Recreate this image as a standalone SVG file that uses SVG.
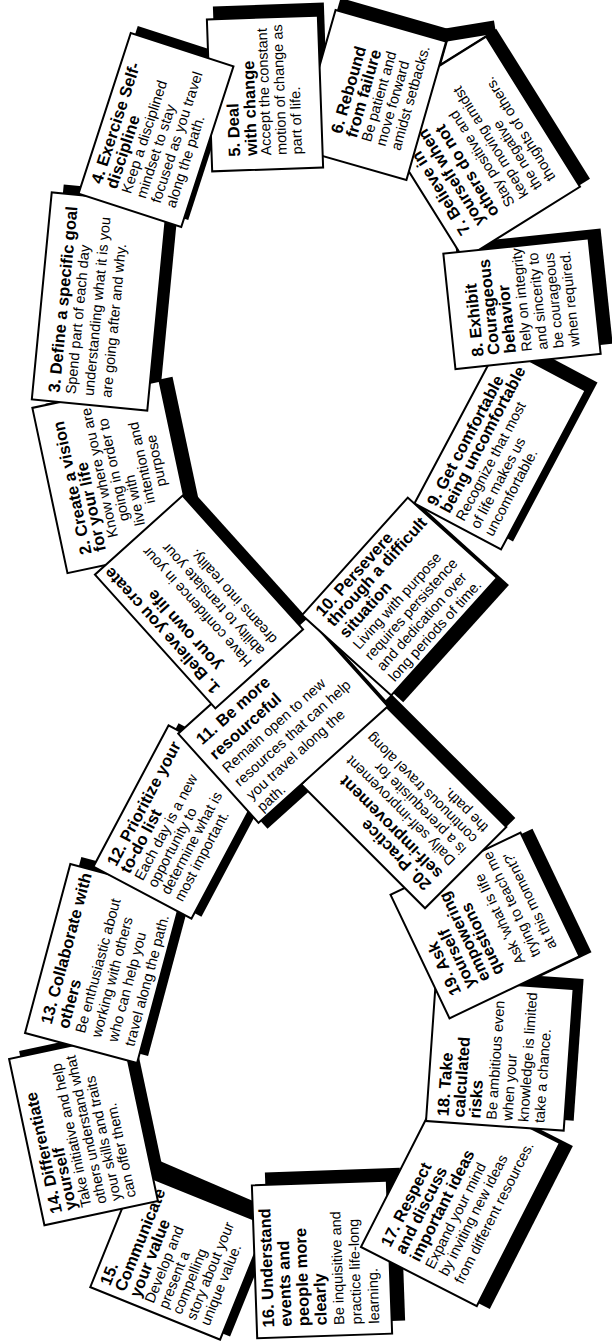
<svg xmlns="http://www.w3.org/2000/svg" width="612" height="1343" viewBox="0 0 612 1343">
<style>
.sh{fill:#000}
.card{fill:#fff;stroke:#000;stroke-width:2}
.b{font-family:"Liberation Sans",Arial,sans-serif;font-weight:bold;font-size:16.5px;fill:#000}
.r{font-family:"Liberation Sans",Arial,sans-serif;font-size:14.5px;fill:#000}
.c{text-anchor:middle}
.band{fill:none;stroke:#000;stroke-width:13;stroke-linecap:butt}
</style>
<rect width="612" height="1343" fill="#fff"/>
<g id="connectors">
<path class="band" d="M148,1163 L262,1212"/>
<path class="band" d="M440,36 L495,27"/>
<rect class="sh" x="-90" y="-59" width="180" height="118" transform="translate(207,595) rotate(-132)"/>
<rect class="sh" x="-84.5" y="-65" width="169" height="130" transform="translate(126.5,473) rotate(-102)"/>
<rect class="sh" x="-104" y="-58" width="208" height="116" transform="translate(111.5,293.5) rotate(-84.5)"/>
<rect class="sh" x="-84.5" y="-54" width="169" height="108" transform="translate(163,123) rotate(-72)"/>
<rect class="sh" x="-76" y="-55.5" width="152" height="111" transform="translate(271,80.5) rotate(-92)"/>
<rect class="sh" x="-72" y="-57.5" width="144" height="115" transform="translate(376,83) rotate(-74)"/>
<rect class="sh" x="-88.5" y="-68.5" width="177" height="137" transform="translate(485,140) rotate(-122)"/>
<rect class="sh" x="-58" y="-73" width="116" height="146" transform="translate(534,293.75) rotate(-96)"/>
<rect class="sh" x="-90" y="-49" width="180" height="98" transform="translate(512,439) rotate(-62)"/>
<rect class="sh" x="-79" y="-60" width="158" height="120" transform="translate(411.5,603.5) rotate(-48)"/>
<rect class="sh" x="-87" y="-60" width="174" height="120" transform="translate(292,726) rotate(-42)"/>
<rect class="sh" x="-80" y="-55.5" width="160" height="111" transform="translate(190,820) rotate(-62)"/>
<rect class="sh" x="-87.5" y="-58" width="175" height="116" transform="translate(114.7,956.5) rotate(-75)"/>
<rect class="sh" x="-85" y="-58" width="170" height="116" transform="translate(93.5,1122) rotate(-102)"/>
<rect class="sh" x="-62" y="-70" width="124" height="140" transform="translate(188.4,1252.9) rotate(-68)"/>
<rect class="sh" x="-76.5" y="-67.5" width="153" height="135" transform="translate(335,1246.5) rotate(-92)"/>
<rect class="sh" x="-91.5" y="-65" width="183" height="130" transform="translate(473.4,1198) rotate(-63)"/>
<rect class="sh" x="-71" y="-69" width="142" height="138" transform="translate(509.8,1045) rotate(-86)"/>
<rect class="sh" x="-68.5" y="-72" width="137" height="144" transform="translate(497,921.5) rotate(-115.5)"/>
<rect class="sh" x="-87.5" y="-57.5" width="175" height="115" transform="translate(412.8,796.7) rotate(-135)"/>
</g>
<g id="n15" transform="translate(178.4,1255.9) rotate(-68)">
<rect class="card" x="-62" y="-70" width="124" height="140"/>
<text class="b" x="-54" y="-52">15.</text>
<text class="b" x="-54" y="-36">Communicate</text>
<text class="b" x="-54" y="-20">your value</text>
<text class="r" x="-54" y="-5">Develop and</text>
<text class="r" x="-54" y="10">present a</text>
<text class="r" x="-54" y="25">compelling</text>
<text class="r" x="-54" y="40">story about your</text>
<text class="r" x="-54" y="55">unique value.</text>
</g>
<g id="n14" transform="translate(83.5,1130) rotate(-102)">
<rect class="card" x="-85" y="-58" width="170" height="116"/>
<text class="b" x="-76" y="-38">14. Differentiate</text>
<text class="b" x="-76" y="-23">yourself</text>
<text class="r" x="-76" y="-8">Take initiative and help</text>
<text class="r" x="-76" y="7.5">others understand what</text>
<text class="r" x="-76" y="22.5">your skills and traits</text>
<text class="r" x="-76" y="37.5">can offer them.</text>
</g>
<g id="n13" transform="translate(103.7,963.5) rotate(-75)">
<rect class="card" x="-87.5" y="-58" width="175" height="116"/>
<text class="b" x="-73" y="-34.5">13. Collaborate with</text>
<text class="b" x="-73" y="-17">others</text>
<text class="r" x="-73" y="0">Be enthusiastic about</text>
<text class="r" x="-73" y="16.5">working with others</text>
<text class="r" x="-73" y="33.5">who can help you</text>
<text class="r" x="-73" y="51">travel along the path.</text>
</g>
<g id="n12" transform="translate(180,822) rotate(-62)">
<rect class="card" x="-80" y="-55.5" width="160" height="111"/>
<text class="b" x="-70" y="-35">12. Prioritize your</text>
<text class="b" x="-70" y="-20">to-do list</text>
<text class="r" x="-70" y="-5">Each day is a new</text>
<text class="r" x="-70" y="10">opportunity to</text>
<text class="r" x="-70" y="25">determine what is</text>
<text class="r" x="-70" y="40">most important.</text>
</g>
<g id="n16" transform="translate(322,1259.5) rotate(-92)">
<rect class="card" x="-76.5" y="-67.5" width="153" height="135"/>
<text class="b" x="-66" y="-50">16. Understand</text>
<text class="b" x="-66" y="-32.5">events and</text>
<text class="b" x="-66" y="-15">people more</text>
<text class="b" x="-66" y="2.5">clearly</text>
<text class="r" x="-66" y="20">Be inquisitive and</text>
<text class="r" x="-66" y="37.5">practice life-long</text>
<text class="r" x="-66" y="55">learning.</text>
</g>
<g id="n17" transform="translate(460.4,1195) rotate(-63)">
<rect class="card" x="-91.5" y="-65" width="183" height="130"/>
<text class="b" x="-79" y="-38.5">17. Respect</text>
<text class="b" x="-79" y="-22.5">and discuss</text>
<text class="b" x="-79" y="-6">important ideas</text>
<text class="r" x="-79" y="10">Expand your mind</text>
<text class="r" x="-79" y="25.5">by inviting new ideas</text>
<text class="r" x="-79" y="43">from different resources.</text>
</g>
<g id="n18" transform="translate(499.8,1055) rotate(-86)">
<rect class="card" x="-71" y="-69" width="142" height="138"/>
<text class="b" x="-65" y="-47">18. Take</text>
<text class="b" x="-65" y="-31">calculated</text>
<text class="b" x="-65" y="-15">risks</text>
<text class="r" x="-65" y="1">Be ambitious even</text>
<text class="r" x="-65" y="17">when your</text>
<text class="r" x="-65" y="33">knowledge is limited</text>
<text class="r" x="-65" y="49">take a chance.</text>
</g>
<g id="n19" transform="translate(485,925.5) rotate(-115.5)">
<rect class="card" x="-68.5" y="-72" width="137" height="144"/>
<text class="b" x="-50" y="-50">19. Ask</text>
<text class="b" x="-50" y="-34">yourself</text>
<text class="b" x="-50" y="-18">empowering</text>
<text class="b" x="-50" y="-3">questions</text>
<text class="r" x="-50" y="21">Ask 'what is life</text>
<text class="r" x="-50" y="38">trying to teach me</text>
<text class="r" x="-50" y="56">at this moment?'</text>
</g>
<g id="n20" transform="translate(403.8,805.7) rotate(-135)">
<rect class="card" x="-87.5" y="-57.5" width="175" height="115"/>
<text class="b" x="-75" y="-35">20. Practice</text>
<text class="b" x="-75" y="-19">self-improvement</text>
<text class="r" x="-75" y="-1">Daily self-improvement</text>
<text class="r" x="-75" y="14.5">is a prerequisite for</text>
<text class="r" x="-75" y="30">continuous travel along</text>
<text class="r" x="-75" y="45.5">the path.</text>
</g>
<g id="n11" transform="translate(283,720) rotate(-42)">
<rect class="card" x="-87" y="-60" width="174" height="120"/>
<text class="b" x="-77" y="-35">11. Be more</text>
<text class="b" x="-77" y="-15">resourceful</text>
<text class="r" x="-77" y="3">Remain open to new</text>
<text class="r" x="-77" y="21">resources that can help</text>
<text class="r" x="-77" y="39">you travel along the</text>
<text class="r" x="-77" y="55">path.</text>
</g>
<g id="n9" transform="translate(500,447) rotate(-62)">
<rect class="card" x="-90" y="-49" width="180" height="98"/>
<text class="b" x="-83" y="-28">9. Get comfortable</text>
<text class="b" x="-83" y="-13">being uncomfortable</text>
<text class="r" x="-83" y="3.5">Recognize that most</text>
<text class="r" x="-83" y="20">of life makes us</text>
<text class="r" x="-83" y="36">uncomfortable.</text>
</g>
<g id="n7" transform="translate(475,148) rotate(-122)">
<rect class="card" x="-88.5" y="-68.5" width="177" height="137"/>
<text class="b" x="-68" y="-47.5">7. Believe in</text>
<text class="b" x="-68" y="-30.5">yourself when</text>
<text class="b" x="-68" y="-13.5">others do not</text>
<text class="r" x="-68" y="5">Stay positive and</text>
<text class="r" x="-68" y="21">keep moving amidst</text>
<text class="r" x="-68" y="37">the negative</text>
<text class="r" x="-68" y="53">thoughts of others.</text>
</g>
<g id="n8" transform="translate(522,303.75) rotate(-96)">
<rect class="card" x="-58" y="-73" width="116" height="146"/>
<text class="b" x="-48" y="-43.5">8. Exhibit</text>
<text class="b" x="-48" y="-27.5">Courageous</text>
<text class="b" x="-48" y="-11">behavior</text>
<text class="r" x="-48" y="5">Rely on integrity</text>
<text class="r" x="-48" y="21">and sincerity to</text>
<text class="r" x="-48" y="37">be courageous</text>
<text class="r" x="-48" y="53">when required.</text>
</g>
<g id="n6" transform="translate(371,95) rotate(-74)">
<rect class="card" x="-72" y="-57.5" width="144" height="115"/>
<text class="b" x="-46" y="-17.5">6. Rebound</text>
<text class="b" x="-46" y="-2">from failure</text>
<text class="r" x="-46" y="13">Be patient and</text>
<text class="r" x="-46" y="28">move forward</text>
<text class="r" x="-46" y="43.5">amidst setbacks.</text>
</g>
<g id="n5" transform="translate(265,93.5) rotate(-92)">
<rect class="card" x="-76" y="-55.5" width="152" height="111"/>
<text class="b" x="-62" y="-27">5. Deal</text>
<text class="b" x="-62" y="-10">with change</text>
<text class="r" x="-62" y="4">Accept the constant</text>
<text class="r" x="-62" y="19.5">motion of change as</text>
<text class="r" x="-62" y="35">part of life.</text>
</g>
<g id="n2" transform="translate(113.5,477) rotate(-102)">
<rect class="card" x="-84.5" y="-65" width="169" height="130"/>
<text class="b" x="-70" y="-37">2. Create a vision</text>
<text class="b" x="-70" y="-22.5">for your life</text>
<text class="r c" x="7" y="-8">Know where you are</text>
<text class="r c" x="7" y="6.5">going in order to</text>
<text class="r" x="-53" y="21">live with</text>
<text class="r c" x="8" y="35.5">intention and</text>
<text class="r c" x="7" y="50">purpose</text>
</g>
<g id="n3" transform="translate(99.5,301.5) rotate(-84.5)">
<rect class="card" x="-104" y="-58" width="208" height="116"/>
<text class="b" x="-95" y="-31">3. Define a specific goal</text>
<text class="r" x="-95" y="-15">Spend part of each day</text>
<text class="r" x="-95" y="3">understanding what it is you</text>
<text class="r" x="-95" y="21">are going after and why.</text>
</g>
<g id="n4" transform="translate(156,130) rotate(-72)">
<rect class="card" x="-84.5" y="-54" width="169" height="108"/>
<text class="b" x="-69" y="-35">4. Exercise Self-</text>
<text class="b" x="-69" y="-19">discipline</text>
<text class="r" x="-69" y="-4">Keep a disciplined</text>
<text class="r" x="-69" y="11.5">mindset to stay</text>
<text class="r" x="-69" y="27">focused as you travel</text>
<text class="r" x="-69" y="42.5">along the path.</text>
</g>
<g id="n10" transform="translate(399.5,596.5) rotate(-48)">
<rect class="card" x="-79" y="-60" width="158" height="120"/>
<text class="b" x="-67" y="-43">10. Persevere</text>
<text class="b" x="-67" y="-28">through a difficult</text>
<text class="b" x="-67" y="-11">situation</text>
<text class="r" x="-67" y="6">Living with purpose</text>
<text class="r" x="-67" y="22">requires persistence</text>
<text class="r" x="-67" y="38">and dedication over</text>
<text class="r" x="-67" y="54">long periods of time.</text>
</g>
<g id="n1" transform="translate(199,602) rotate(-132)">
<rect class="card" x="-90" y="-59" width="180" height="118"/>
<text class="b" x="-78" y="-41">1. Believe you create</text>
<text class="b" x="-62" y="-24">your own life</text>
<text class="r" x="-80" y="0">Have confidence in your</text>
<text class="r" x="-80" y="17">ability to translate your</text>
<text class="r" x="-80" y="34">dreams into reality.</text>
</g>
</svg>
